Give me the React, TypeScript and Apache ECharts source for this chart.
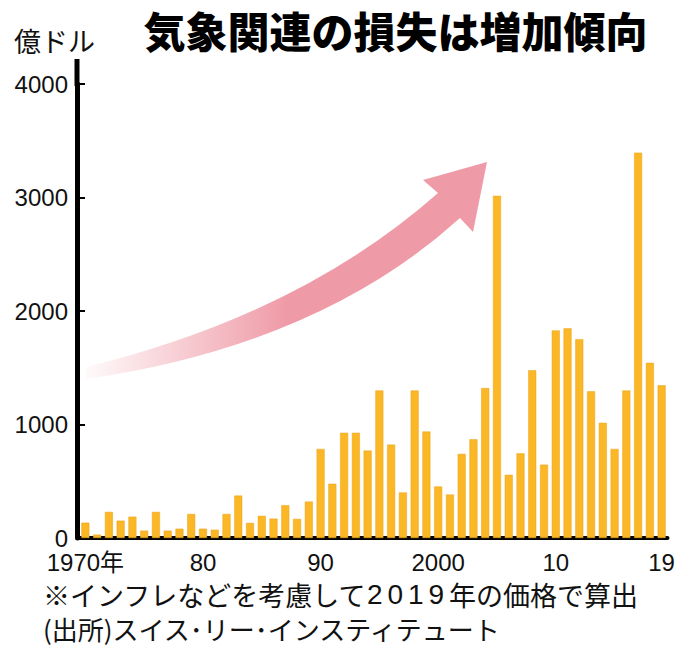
import React, { useEffect, useRef } from "react";
import * as echarts from "echarts";

const years: string[] = [];
for (let y = 1970; y <= 2019; y++) years.push(String(y));

const losses = [
  135, 30, 230, 153, 188, 65, 230, 65, 82, 212,
  82, 73, 212, 374, 133, 195, 171, 289, 168, 321,
  785, 478, 927, 927, 770, 1300, 823, 401, 1300, 938,
  454, 383, 741, 870, 1321, 3015, 557, 746, 1478, 646,
  1829, 1847, 1752, 1292, 1015, 785, 1300, 3395, 1543, 1345,
];

const xTickLabels: Record<string, string> = {
  "1970": "1970年",
  "1980": "80",
  "1990": "90",
  "2000": "2000",
  "2010": "10",
  "2019": "19",
};

const yTicks = [0, 1000, 2000, 3000, 4000];

const titleText = "気象関連の損失は増加傾向";
const unitText = "億ドル";
const notePrefix = "※インフレなどを考慮して";
const noteYear = "2019";
const noteSuffix = "年の価格で算出";
const sourceText = "(出所)スイス･リー･インスティテュート";

const ARROW_D =
  "M86 367 Q300 315 438 193 L423 180 L487 162 L473 232 L460 218 Q320 345 86 379 Z";

let registered = false;

export default function App() {
  const ref = useRef<HTMLDivElement>(null);

  useEffect(() => {
    document.body.style.margin = "0";
    if (!registered) {
      echarts.graphic.registerShape("trendArrow", echarts.graphic.extendPath(ARROW_D, {}));
      registered = true;
    }
    const chart = echarts.init(ref.current!, null, { renderer: "svg" });
    const numFont = "'Liberation Sans', Arial, 'Noto Sans CJK JP', sans-serif";
    const jpFont = "'Noto Sans CJK JP', sans-serif";
    const noteRich =
      `{a|${notePrefix}}` +
      noteYear.split("").map((c) => `{d|${c}}`).join("") +
      `{a|${noteSuffix}}`;
    chart.setOption({
      animation: false,
      backgroundColor: "#ffffff",
      grid: { left: 79.5, right: 11.5, top: 84, bottom: 653 - 538 },
      xAxis: {
        type: "category",
        data: years,
        offset: 1.5,
        axisLine: { show: true, lineStyle: { color: "#000", width: 4 } },
        axisTick: { show: false },
        axisLabel: {
          interval: (idx: number, val: string) => xTickLabels[val] !== undefined,
          formatter: (val: string) => xTickLabels[val] ?? "",
          fontFamily: numFont,
          fontSize: 24,
          lineHeight: 24,
          color: "#111",
          margin: 11,
        },
      },
      yAxis: {
        type: "value",
        min: 0,
        max: 4000,
        interval: 1000,
        offset: 2.5,
        axisLine: { show: true, lineStyle: { color: "#000", width: 5 } },
        axisTick: { show: true, inside: true, length: 8, lineStyle: { color: "#000", width: 2 } },
        splitLine: { show: false },
        axisLabel: {
          fontFamily: numFont,
          fontSize: 24,
          color: "#111",
          margin: 9,
          formatter: (v: number) => (yTicks.includes(v) ? String(v) : ""),
        },
      },
      series: [
        {
          type: "bar",
          data: losses,
          barWidth: 8,
          itemStyle: { color: "#FBB726", borderColor: "#E9A41C", borderWidth: 0.5 },
          z: 2,
        },
      ],
      graphic: [
        {
          type: "trendArrow",
          x: 0,
          y: 0,
          z: 1,
          style: {
            fill: new echarts.graphic.LinearGradient(0, 0, 1, 0, [
              { offset: 0, color: "rgba(239,155,167,0.05)" },
              { offset: 0.5, color: "rgba(239,155,167,1)" },
              { offset: 1, color: "rgba(239,155,167,1)" },
            ]),
          },
        },
        {
          type: "line",
          shape: { x1: 77, y1: 59, x2: 77, y2: 86 },
          style: { stroke: "#000", lineWidth: 5 },
          z: 5,
        },
        {
          type: "text",
          x: 395.5,
          y: 29,
          style: {
            text: titleText,
            fontFamily: jpFont,
            fontWeight: 900,
            fontSize: 42,
            lineHeight: 44,
            fill: "#000",
            align: "center",
            verticalAlign: "middle",
          },
        },
        {
          type: "text",
          x: 14,
          y: 40,
          style: {
            text: unitText,
            fontFamily: jpFont,
            fontSize: 27,
            lineHeight: 28,
            fill: "#111",
            align: "left",
            verticalAlign: "middle",
          },
        },
        {
          type: "text",
          x: 43,
          y: 594,
          style: {
            text: noteRich,
            fill: "#111",
            align: "left",
            verticalAlign: "middle",
            rich: {
              a: { fontFamily: jpFont, fontSize: 27, lineHeight: 28, fill: "#111" },
              d: { fontFamily: numFont, fontSize: 28, lineHeight: 28, width: 20.5, fill: "#111" },
            },
          },
        },
        {
          type: "text",
          x: 43,
          y: 628,
          style: {
            text: sourceText,
            fontFamily: jpFont,
            fontSize: 26,
            lineHeight: 28,
            fill: "#111",
            align: "left",
            verticalAlign: "middle",
          },
        },
      ],
    });
    return () => chart.dispose();
  }, []);

  return <div ref={ref} style={{ width: 679, height: 653 }} />;
}
